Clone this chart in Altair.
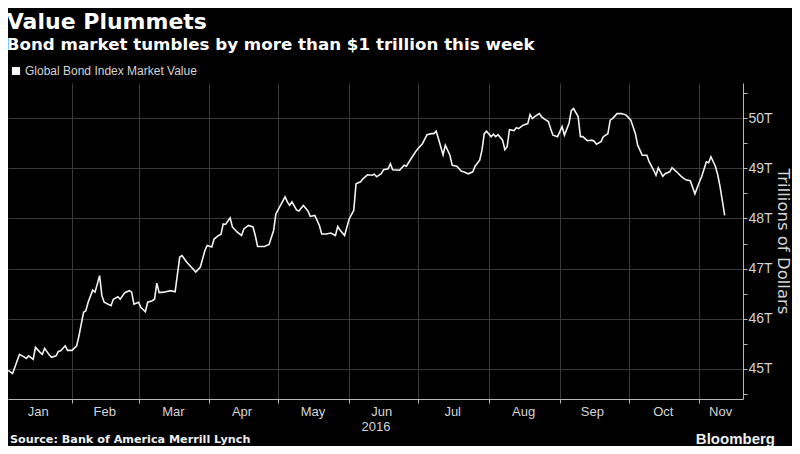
import altair as alt
import pandas as pd

# ---- data (trillions of US dollars) ----
dates = [
    "2016-01-04", "2016-01-06", "2016-01-09", "2016-01-11", "2016-01-12", "2016-01-13", "2016-01-15",
    "2016-01-16", "2016-01-18", "2016-01-19", "2016-01-20", "2016-01-22", "2016-01-23", "2016-01-25",
    "2016-01-26", "2016-01-27", "2016-01-29", "2016-01-30",
    "2016-02-01", "2016-02-03", "2016-02-04", "2016-02-06", "2016-02-07", "2016-02-08", "2016-02-10",
    "2016-02-11", "2016-02-12", "2016-02-13", "2016-02-14", "2016-02-15", "2016-02-18", "2016-02-19",
    "2016-02-21", "2016-02-22", "2016-02-24", "2016-02-26", "2016-02-27", "2016-02-28",
    "2016-03-01", "2016-03-02", "2016-03-04", "2016-03-05", "2016-03-07", "2016-03-08", "2016-03-09",
    "2016-03-10", "2016-03-12", "2016-03-15", "2016-03-17", "2016-03-19", "2016-03-20", "2016-03-22",
    "2016-03-24", "2016-03-26", "2016-03-28", "2016-03-30", "2016-03-31",
    "2016-04-02", "2016-04-03", "2016-04-05", "2016-04-06", "2016-04-07", "2016-04-08", "2016-04-10",
    "2016-04-11", "2016-04-13", "2016-04-15", "2016-04-16", "2016-04-18", "2016-04-20", "2016-04-21",
    "2016-04-22", "2016-04-25", "2016-04-27", "2016-04-29", "2016-04-30",
    "2016-05-02", "2016-05-04", "2016-05-05", "2016-05-06", "2016-05-07", "2016-05-09", "2016-05-10",
    "2016-05-12", "2016-05-14", "2016-05-15", "2016-05-17", "2016-05-19", "2016-05-20", "2016-05-22",
    "2016-05-24", "2016-05-26", "2016-05-27", "2016-05-28", "2016-05-30",
    "2016-06-01", "2016-06-03", "2016-06-04", "2016-06-06", "2016-06-07", "2016-06-09", "2016-06-11",
    "2016-06-12", "2016-06-13", "2016-06-15", "2016-06-16", "2016-06-18", "2016-06-19", "2016-06-20",
    "2016-06-23", "2016-06-25", "2016-06-26", "2016-06-28", "2016-06-30",
    "2016-07-01", "2016-07-03", "2016-07-05", "2016-07-07", "2016-07-08", "2016-07-09", "2016-07-10",
    "2016-07-12", "2016-07-13", "2016-07-15", "2016-07-16", "2016-07-18", "2016-07-20", "2016-07-21",
    "2016-07-23", "2016-07-25", "2016-07-26", "2016-07-28", "2016-07-29", "2016-07-30", "2016-07-31",
    "2016-08-02", "2016-08-03", "2016-08-04", "2016-08-05", "2016-08-07", "2016-08-08", "2016-08-09",
    "2016-08-10", "2016-08-12", "2016-08-13", "2016-08-14", "2016-08-16", "2016-08-18", "2016-08-19",
    "2016-08-20", "2016-08-21", "2016-08-23", "2016-08-24", "2016-08-25", "2016-08-27", "2016-08-28",
    "2016-08-29", "2016-08-31",
    "2016-09-02", "2016-09-03", "2016-09-05", "2016-09-06", "2016-09-07", "2016-09-09", "2016-09-10",
    "2016-09-11", "2016-09-13", "2016-09-15", "2016-09-16", "2016-09-17", "2016-09-19", "2016-09-20",
    "2016-09-22", "2016-09-23", "2016-09-24", "2016-09-26", "2016-09-28", "2016-09-30",
    "2016-10-02", "2016-10-04", "2016-10-05", "2016-10-07", "2016-10-09", "2016-10-10", "2016-10-12",
    "2016-10-13", "2016-10-14", "2016-10-16", "2016-10-17", "2016-10-19", "2016-10-20", "2016-10-22",
    "2016-10-24", "2016-10-26", "2016-10-28", "2016-10-30",
    "2016-11-01", "2016-11-02", "2016-11-04", "2016-11-05", "2016-11-06", "2016-11-08", "2016-11-09",
    "2016-11-10", "2016-11-12",
]
values = [
    44.97, 44.91, 45.29, 45.24, 45.21, 45.26, 45.19,
    45.43, 45.33, 45.29, 45.41, 45.28, 45.23, 45.26,
    45.35, 45.36, 45.46, 45.37,
    45.37, 45.46, 45.66, 46.13, 46.16, 46.33, 46.57,
    46.53, 46.69, 46.86, 46.46, 46.33, 46.26, 46.39,
    46.44, 46.39, 46.52, 46.56, 46.53, 46.29,
    46.33, 46.23, 46.14, 46.33, 46.36, 46.39, 46.71,
    46.52, 46.53, 46.56, 46.54, 47.23, 47.26, 47.13,
    47.03, 46.93, 47.03, 47.36, 47.46,
    47.43, 47.59, 47.66, 47.68, 47.89, 47.88, 48.01,
    47.83, 47.73, 47.66, 47.79, 47.86, 47.83, 47.66,
    47.44, 47.44, 47.48, 47.76, 48.09,
    48.26, 48.43, 48.33, 48.26, 48.33, 48.17, 48.15,
    48.26, 48.15, 48.04, 48.06, 47.86, 47.69, 47.69,
    47.71, 47.66, 47.84, 47.77, 47.66,
    47.99, 48.16, 48.69, 48.73, 48.79, 48.87, 48.86,
    48.88, 48.83, 48.89, 48.97, 48.99, 49.09, 48.97,
    48.96, 49.06, 49.04, 49.19, 49.33,
    49.39, 49.49, 49.67, 49.69, 49.69, 49.74, 49.59,
    49.27, 49.46, 49.26, 49.06, 49.04, 48.94, 48.93,
    48.89, 48.93, 49.04, 49.16, 49.36, 49.69, 49.74,
    49.63, 49.68, 49.63, 49.67, 49.56, 49.37, 49.43,
    49.77, 49.75, 49.81, 49.79, 49.86, 49.89, 50.07,
    49.99, 50.03, 50.09, 50.03, 49.99, 49.93, 49.79,
    49.66, 49.63,
    49.83, 49.66, 49.89, 50.15, 50.19, 50.03, 49.63,
    49.63, 49.55, 49.56, 49.54, 49.48, 49.53, 49.63,
    49.69, 49.96, 49.99, 50.09, 50.09, 50.06,
    49.96, 49.69, 49.46, 49.26, 49.26, 49.13, 48.96,
    48.86, 49.01, 48.84, 48.89, 48.93, 49.01, 48.93,
    48.84, 48.77, 48.75, 48.49,
    48.73, 48.84, 49.13, 49.11, 49.23, 49.03, 48.86,
    48.63, 48.06,
]
series_name = "Global Bond Index Market Value"

# axis tick/label values
month_starts = [(2016, m, 1) for m in range(2, 12)]
month_label_days = [(2016, 1, 17), (2016, 2, 15), (2016, 3, 16), (2016, 4, 15), (2016, 5, 16),
                    (2016, 6, 15), (2016, 7, 16), (2016, 8, 16), (2016, 9, 15), (2016, 10, 16),
                    (2016, 11, 10)]
y_tick_values = [44.5, 45, 45.5, 46, 46.5, 47, 47.5, 48, 48.5, 49, 49.5, 50, 50.5]
x_domain = [(2016, 1, 4), (2016, 11, 20)]
y_domain = [44.4, 50.7]

title_text = "Value Plummets"
subtitle_text = "Bond market tumbles by more than $1 trillion this week"
source_text = "Source: Bank of America Merrill Lynch"
brand_text = "Bloomberg"

df = pd.DataFrame({
    "date": [d + "T00:00:00" for d in dates],
    "value": values,
    "series": [series_name] * len(values),
})

def dt(t):
    return alt.DateTime(year=t[0], month=t[1], date=t[2])

NARROW = "Liberation Sans Narrow, Liberation Sans, sans-serif"
BOLD = "DejaVu Sans"
GRID = "#3a3a3a"
AXIS = "#b8b8b8"
LABEL = "#d4d4d4"

is_month_start = "date(datum.value) === 1"
is_integer = "datum.value % 1 === 0"

x_axis = alt.Axis(
    values=[dt(t) for t in month_starts] + [dt(t) for t in month_label_days],
    labelExpr="date(datum.value) === 1 ? '' : timeFormat(datum.value, '%b')",
    grid=True,
    gridColor=GRID,
    gridOpacity={"condition": {"test": is_month_start, "value": 1}, "value": 0},
    tickOpacity={"condition": {"test": is_month_start, "value": 1}, "value": 0},
    tickSize=4,
    tickColor=AXIS,
    domainColor=AXIS,
    labelColor=LABEL,
    labelFont=NARROW,
    labelFontSize=13,
    labelPadding=2,
    labelOverlap=False,
    labelFlush=False,
    title="2016",
    titleFont=NARROW,
    titleFontSize=13,
    titleFontWeight="normal",
    titleColor=LABEL,
    titlePadding=2,
)

y_axis = alt.Axis(
    orient="right",
    values=y_tick_values,
    labelExpr="datum.value % 1 === 0 ? datum.value + 'T' : ''",
    grid=True,
    gridColor=GRID,
    gridOpacity={"condition": {"test": is_integer, "value": 1}, "value": 0},
    tickSize=4,
    tickColor=AXIS,
    domainColor=AXIS,
    labelColor=LABEL,
    labelFont=NARROW,
    labelFontSize=14,
    labelPadding=1,
    title="Trillions of Dollars",
    titleAngle=90,
    titleFont="DejaVu Sans",
    titleFontSize=16.5,
    titleFontWeight="normal",
    titleColor=LABEL,
    titlePadding=2,
)

line = alt.Chart(df).mark_line(strokeWidth=1.6).encode(
    x=alt.X("date:T", scale=alt.Scale(domain=[dt(t) for t in x_domain]), axis=x_axis),
    y=alt.Y("value:Q", scale=alt.Scale(domain=y_domain, zero=False, nice=False), axis=y_axis),
    color=alt.Color(
        "series:N",
        scale=alt.Scale(range=["#f2f2f2"]),
        legend=alt.Legend(
            title=None,
            orient="none",
            legendX=2,
            legendY=-18,
            padding=0,
            symbolType="square",
            symbolFillColor="#ffffff",
            symbolStrokeColor="#ffffff",
            symbolSize=45,
            labelColor=LABEL,
            labelFont=NARROW,
            labelFontSize=12,
            labelOffset=3,
            labelLimit=400,
        ),
    ),
)

source = alt.Chart(alt.Data(values=[{"t": source_text}])).mark_text(
    align="left", baseline="middle", font=BOLD, fontWeight="bold", fontSize=11.2, color="#eeeeee"
).encode(text="t:N", x=alt.value(2), y=alt.value(357))

brand = alt.Chart(alt.Data(values=[{"t": brand_text}])).mark_text(
    align="right", baseline="middle", font="Liberation Sans", fontWeight="bold", fontSize=15, color="#eeeeee"
).encode(text="t:N", x=alt.value(767), y=alt.value(356))

chart = alt.layer(line, source, brand).properties(
    width=735,
    height=316,
    background="#000000",
    padding={"left": 0, "top": 75, "right": 49, "bottom": 47},
    autosize=alt.AutoSizeParams(type="none"),
    title=alt.TitleParams(
        text=title_text,
        subtitle=subtitle_text,
        anchor="start",
        offset=10,
        dx=2,
        font=BOLD,
        fontSize=22,
        fontWeight="bold",
        color="#ffffff",
        subtitleFont=BOLD,
        subtitleFontSize=16.7,
        subtitleFontWeight="bold",
        subtitleColor="#ffffff",
        subtitlePadding=3,
    ),
).configure_view(stroke=None)

chart.save("out.html", embed_options={"renderer": "svg", "actions": False})
